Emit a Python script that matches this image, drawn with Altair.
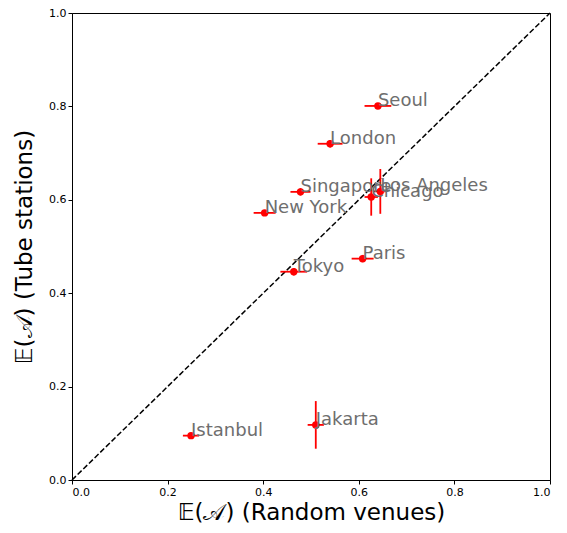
import altair as alt
import pandas as pd

cities = ["Seoul", "London", "Singapore", "New York", "Los Angeles",
          "Chicago", "Paris", "Tokyo", "Istanbul", "Jakarta"]
random_venues = [0.640, 0.540, 0.478, 0.403, 0.645, 0.626, 0.608, 0.464, 0.249, 0.510]
tube_stations = [0.801, 0.720, 0.617, 0.572, 0.618, 0.606, 0.474, 0.446, 0.095, 0.118]
x_err = [0.028, 0.026, 0.021, 0.023, 0.014, 0.014, 0.023, 0.028, 0.017, 0.017]
y_err = [0.005, 0.008, 0.008, 0.006, 0.048, 0.040, 0.008, 0.008, 0.005, 0.051]
diag_x = [0.0, 1.0]
diag_y = [0.0, 1.0]
ticks = [0.0, 0.2, 0.4, 0.6, 0.8, 1.0]

df = pd.DataFrame({
    "city": cities,
    "x": random_venues,
    "y": tube_stations,
    "xlo": [a - e for a, e in zip(random_venues, x_err)],
    "xhi": [a + e for a, e in zip(random_venues, x_err)],
    "ylo": [a - e for a, e in zip(tube_stations, y_err)],
    "yhi": [a + e for a, e in zip(tube_stations, y_err)],
})
diag = pd.DataFrame({"x": diag_x, "y": diag_y})

xs = alt.Scale(domain=[0, 1], nice=False)
ys = alt.Scale(domain=[0, 1], nice=False)

xaxis = alt.Axis(values=ticks, format=".1f", title="𝔼(𝒜) (Random venues)", grid=False)
yaxis = alt.Axis(values=ticks, format=".1f", title="𝔼(𝒜) (Tube stations)", grid=False)

line = alt.Chart(diag).mark_line(color="black", strokeWidth=1.5, strokeDash=[5.5, 2.4]).encode(
    x=alt.X("x:Q", scale=xs, axis=xaxis),
    y=alt.Y("y:Q", scale=ys, axis=yaxis),
)

hbars = alt.Chart(df).mark_rule(color="red", strokeWidth=1.8).encode(
    x=alt.X("xlo:Q", scale=xs),
    x2="xhi:Q",
    y=alt.Y("y:Q", scale=ys),
)

vbars = alt.Chart(df).mark_rule(color="red", strokeWidth=1.8).encode(
    x=alt.X("x:Q", scale=xs),
    y=alt.Y("ylo:Q", scale=ys),
    y2="yhi:Q",
)

points = alt.Chart(df).mark_circle(color="red", size=55, opacity=1).encode(
    x=alt.X("x:Q", scale=xs),
    y=alt.Y("y:Q", scale=ys),
)

labels = alt.Chart(df).mark_text(
    align="left", baseline="alphabetic", font="DejaVu Sans", fontSize=18,
    color="#6e6e6e", dx=0, dy=0,
).encode(
    x=alt.X("x:Q", scale=xs),
    y=alt.Y("y:Q", scale=ys),
    text="city:N",
)

chart = alt.layer(line, hbars, vbars, points, labels).properties(
    width=478, height=467,
    autosize=alt.AutoSizeParams(type="none"),
    padding={"left": 64, "top": 5, "right": 9, "bottom": 44},
).configure_view(
    stroke="black", strokeWidth=1,
).configure_axis(
    domainColor="black", domainWidth=1,
    tickColor="black", tickSize=4, tickWidth=1,
    labelColor="black", labelFont="DejaVu Sans", labelFontSize=11, labelPadding=2,
    titleColor="black", titleFont="DejaVu Sans", titleFontSize=23, titleFontWeight="normal",
).configure_axisX(
    titlePadding=4,
).configure_axisY(
    titlePadding=12,
)

chart.save("out.html", embed_options={"renderer": "svg", "actions": False})
